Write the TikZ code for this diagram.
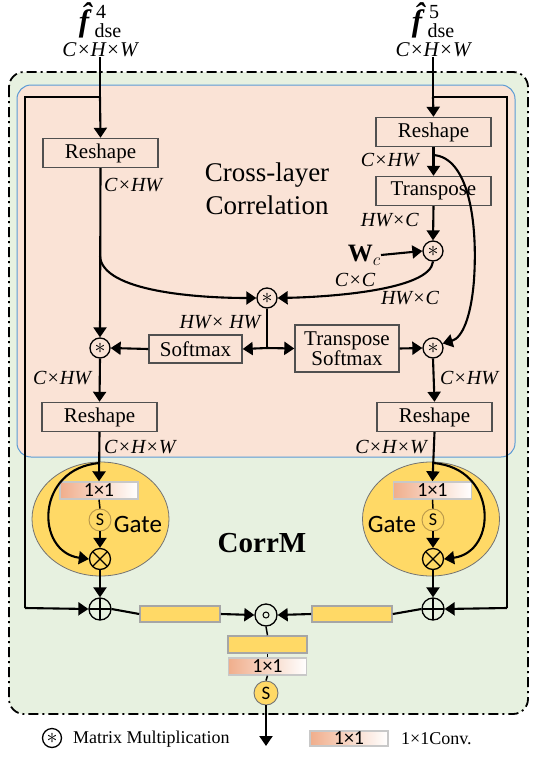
\RequirePackage{fix-cm}
\documentclass[tikz,border=0pt]{standalone}
\usepackage{amsmath}
\usepackage{bm}
\usepackage{fontspec}
\setmainfont{Liberation Serif}
\newfontfamily\calib{Carlito}
\usetikzlibrary{arrows.meta,shapes.geometric}
\definecolor{bggreen}{HTML}{E7F1E0}
\definecolor{pinkbg}{HTML}{FAE3D6}
\definecolor{blueb}{HTML}{5B9BD5}
\definecolor{gateY}{HTML}{FFD966}
\definecolor{convL}{HTML}{F0AE8C}
\definecolor{boxgray}{HTML}{505050}
\definecolor{convb}{HTML}{C8C8C8}
\definecolor{barb}{HTML}{A6A6A6}
\definecolor{sbord}{HTML}{B8964A}
\tikzset{
  rbox/.style={draw=boxgray, line width=1.4pt, minimum width=115pt, minimum height=29pt, inner sep=0pt, font=\fontsize{21}{20}\selectfont},
  lab/.style={inner sep=0pt, font=\fontsize{20}{22}\selectfont\itshape},
  mm/.style={circle, draw, line width=1.3pt, minimum size=20pt, inner sep=0pt, font=\fontsize{22}{22}\selectfont},
  ar/.style={line width=2.1pt, -{Triangle[length=10pt, width=13pt]}},
  ln/.style={line width=2.1pt},
  thin/.style={line width=1.5pt},
  gate/.style={ellipse, draw=black!55, fill=gateY, line width=0.8pt, minimum width=137pt, minimum height=114pt, inner sep=0pt},
  conv/.style={draw=convb, line width=1.4pt, left color=convL, right color=white, minimum width=78pt, minimum height=17pt, inner sep=0pt, font=\calib\fontsize{20}{20}\selectfont},
  bar/.style={draw=barb, fill=gateY, line width=1.6pt, minimum width=80pt, minimum height=16pt, inner sep=0pt},
  sg/.style={circle, draw=sbord, line width=0.9pt, fill=gateY, minimum size=22pt, inner sep=0pt, font=\calib\fontsize{18}{18}\selectfont},
  sy/.style={circle, draw=black!55, line width=0.9pt, fill=gateY, minimum size=24pt, inner sep=0pt, font=\calib\fontsize{19}{19}\selectfont},
  otim/.style={circle, draw, line width=1.3pt, minimum size=21pt, inner sep=0pt,
    path picture={\draw[line width=1.3pt] (path picture bounding box.north west) -- (path picture bounding box.south east) (path picture bounding box.north east) -- (path picture bounding box.south west);}},
  oplu/.style={circle, draw, line width=1.3pt, minimum size=22pt, inner sep=0pt,
    path picture={\draw[line width=1.3pt] (path picture bounding box.north) -- (path picture bounding box.south) (path picture bounding box.east) -- (path picture bounding box.west);}},
  hadm/.style={circle, draw, line width=1.3pt, minimum size=22pt, inner sep=0pt},
  ttlf/.style={font=\fontsize{31}{31}\selectfont\bfseries\itshape, inner sep=0pt, anchor=base},
  ttls/.style={font=\fontsize{20}{20}\selectfont, inner sep=0pt, anchor=base},
}
\begin{document}
\begin{tikzpicture}[x=1pt,y=-1pt]
\useasboundingbox (0,0) rectangle (533,758);
% backgrounds
\draw[fill=bggreen, line width=1.8pt, dash pattern=on 10pt off 4pt on 2pt off 4pt, rounded corners=15pt] (9,72) rectangle (528,714);
\draw[fill=pinkbg, draw=blueb, line width=1pt, rounded corners=14pt] (17,85) rectangle (515,457);
\node[gate] (g1) at (100.5,519) {};
\node[gate] (g2) at (431,519) {};
% titles
\node[ttlf] (f4) at (84,31) {\^{f}};
\node[ttls] (f4a) at (101,18) {4};
\node[ttls] (f4b) at (108,37) {dse};
\node[lab, font=\fontsize{21}{22}\selectfont\itshape] (d4) at (100,50) {C×H×W};
\node[ttlf] (f5) at (417,31) {\^{f}};
\node[ttls] (f5a) at (434,18) {5};
\node[ttls] (f5b) at (441,37) {dse};
\node[lab, font=\fontsize{21}{22}\selectfont\itshape] (d5) at (433,50) {C×H×W};
\node[align=center, font=\fontsize{27}{33}\selectfont] (cl) at (267,189) {Cross-layer\\Correlation};
\node[font=\bfseries\fontsize{29}{30}\selectfont] (cm) at (262,543) {CorrM};
\node[font=\calib\fontsize{25}{25}\selectfont] (gt1) at (138,524) {Gate};
\node[font=\calib\fontsize{25}{25}\selectfont] (gt2) at (392,524) {Gate};
% coordinates
\coordinate (j4) at (100,97);
\coordinate (tl) at (25,97);
\coordinate (bl) at (25,608);
\coordinate (j5) at (433,97);
\coordinate (tr) at (507,97);
\coordinate (br) at (507,608);
\coordinate (k1) at (100,256);
\coordinate (k2) at (433,155);
\coordinate (jc) at (267,348);
\coordinate (k3) at (100,463);
\coordinate (k4) at (433,463);
\coordinate (outp) at (266,746);
% nodes
\node[rbox] (rs1) at (100.5,153) {Reshape};
\node[rbox] (rs2) at (433.5,132) {Reshape};
\node[rbox] (tp) at (433.5,191) {Transpose};
\node[mm] (m2) at (433,251) {$\ast$};
\node[anchor=east, inner sep=0pt, font=\fontsize{25}{25}\selectfont] (wc) at (381,255) {$\mathbf{W}_{c}$};
\node[mm] (mc) at (267,298) {$\ast$};
\node[rbox, minimum width=93pt, minimum height=28pt] (sm) at (195.5,349) {Softmax};
\node[rbox, minimum width=104pt, minimum height=47pt, align=center] (ts) at (347,348.5) {Transpose\\Softmax};
\node[mm] (m1) at (100,348) {$\ast$};
\node[mm] (m3) at (433,348) {$\ast$};
\node[rbox] (rs3) at (99.5,417) {Reshape};
\node[rbox] (rs4) at (434.5,417) {Reshape};
\node[conv] (cv1) at (99,490.5) {1×1};
\node[conv] (cv2) at (432.5,490.5) {1×1};
\node[sg] (s1) at (100,520) {S};
\node[sg] (s2) at (433,520) {S};
\node[otim] (x1) at (100,559) {};
\node[otim] (x2) at (433,559) {};
\node[oplu] (p1) at (100,609) {};
\node[oplu] (p2) at (433,609) {};
\node[bar] (b1) at (180,614) {};
\node[bar] (b2) at (352,614) {};
\node[hadm] (hd) at (266,615) {};
\draw[line width=1pt] (hd.center) circle (3);
\node[bar, minimum width=79pt, minimum height=17pt] (b3) at (267.5,644.5) {};
\node[conv] (cv3) at (267.5,666.5) {1×1};
\node[sy] (s3) at (266,693) {S};
% labels
\node[lab, anchor=west] (l1) at (104,185) {C×HW};
\node[lab, anchor=east] (l2) at (419,160) {C×HW};
\node[lab, anchor=east] (l3) at (419,220) {HW×C};
\node[lab] (l4) at (355,280) {C×C};
\node[lab] (l5) at (410,298) {HW×C};
\node[lab] (l6) at (220,322) {HW× HW};
\node[lab] (l7) at (62,378) {C×HW};
\node[lab] (l8) at (469,378) {C×HW};
\node[lab, anchor=west] (l9) at (104,447) {C×H×W};
\node[lab, anchor=east] (l10) at (427,447) {C×H×W};
% frame
\draw[ln] (d4.south) -- (j4);
\draw[ar] (j4) -- (rs1.north);
\draw[ln] (j4) -- (tl) -- (bl);
\draw[ar] (bl) -- (p1.west);
\draw[ln] (d5.south) -- (j5);
\draw[ar] (j5) -- (rs2.north);
\draw[ln] (j5) -- (tr) -- (br);
\draw[ar] (br) -- (p2.east);
% correlation
\draw[ar] (rs1.south) -- (m1.north);
\draw[ar] (k1) .. controls (102,292) and (200,298) .. (mc.west);
\draw[ar] (rs2.south) -- (tp.north);
\draw[ar] (tp.south) -- (m2.north);
\draw[ar] (wc.east) -- (m2.west);
\draw[ar] (m2.south) .. controls (430,290) and (330,297) .. (mc.east);
\draw[ar] (k2) .. controls (468,157) and (478,220) .. (474,280) .. controls (471,318) and (462,338) .. (m3.25);
\draw[ln] (mc.south) -- (jc);
\draw[ar] (jc) -- (sm.east);
\draw[ar] (jc) -- (ts.west);
\draw[ar] (sm.west) -- (m1.east);
\draw[ar] (ts.east) -- (m3.west);
\draw[ar] (m1.south) -- (rs3.north);
\draw[ar] (m3.south) -- (rs4.north);
% gates
\draw[ar] (rs3.south) -- (cv1.north);
\draw[ar] (rs4.south) -- (cv2.north);
\draw[thin] (cv1.south) -- (s1.north);
\draw[thin] (cv2.south) -- (s2.north);
\draw[ar] (s1.south) -- (x1.north);
\draw[ar] (s2.south) -- (x2.north);
\draw[ar] (k3) .. controls (35,468) and (35,552) .. (x1.west);
\draw[ar] (k4) .. controls (498,468) and (498,552) .. (x2.east);
\draw[ar] (x1.south) -- (p1.north);
\draw[ar] (x2.south) -- (p2.north);
% fusion
\draw[ln] (p1.east) -- (b1.west);
\draw[ar] (b1.east) -- (hd.west);
\draw[ln] (p2.west) -- (b2.east);
\draw[ar] (b2.west) -- (hd.east);
\draw[thin] (hd.south) -- (b3.north);
\draw[thin] (b3.south) -- (cv3.north);
\draw[thin] (cv3.south) -- (s3.north);
\draw[ar] (s3.south) -- (outp);
% legend
\node[mm, minimum size=19pt] (lm) at (52,738) {$\ast$};
\node[anchor=west, inner sep=0pt, font=\fontsize{18}{20}\selectfont] (lt) at (73,739) {Matrix Multiplication};
\node[conv, minimum height=15pt] (lc) at (349,738.5) {1×1};
\node[anchor=west, inner sep=0pt, font=\fontsize{18}{20}\selectfont] (lct) at (401,739) {1×1Conv.};
\end{tikzpicture}
\end{document}
